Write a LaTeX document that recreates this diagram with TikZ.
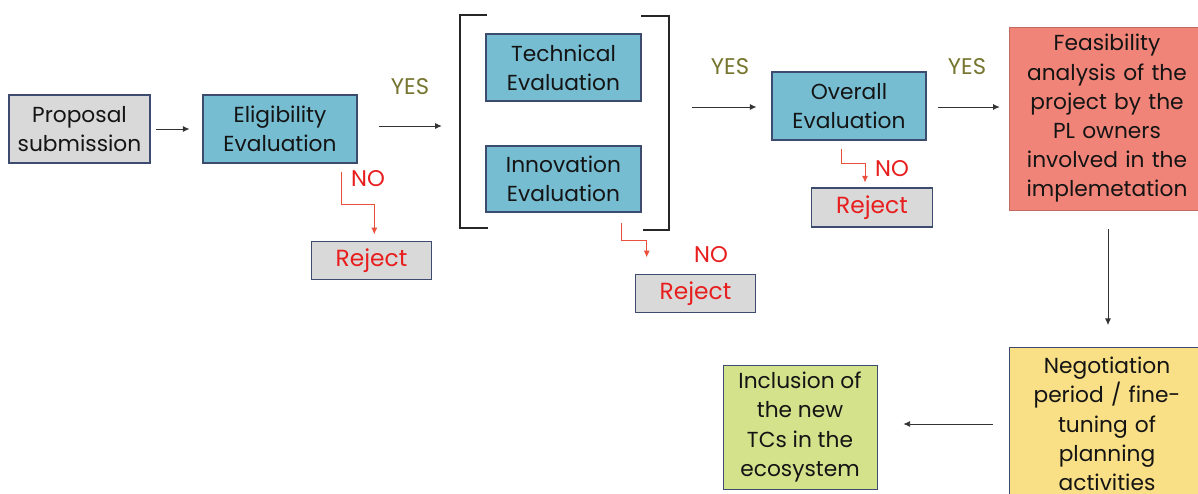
\documentclass[tikz,border=0pt]{standalone}
\usepackage{fontspec}
\setmainfont{Poppins}
\usetikzlibrary{arrows.meta}
\definecolor{bordc}{RGB}{60,75,110}
\definecolor{grayf}{RGB}{217,217,217}
\definecolor{bluef}{RGB}{118,189,210}
\definecolor{salmonf}{RGB}{241,132,120}
\definecolor{yellowf}{RGB}{249,223,134}
\definecolor{greenf}{RGB}{212,226,140}
\definecolor{yesc}{RGB}{118,118,48}
\definecolor{noc}{RGB}{232,30,30}
\definecolor{noarr}{RGB}{235,80,60}
\tikzset{
  box/.style={draw=bordc, line width=0.8pt, align=center, inner sep=0pt,
    font=\fontsize{16.3}{21.9}\selectfont, text=black!92},
  rejbox/.style={box, fill=grayf, minimum width=90.5pt, minimum height=28pt, text=noc,
    font=\fontsize{17.5}{20}\selectfont},
  flow/.style={draw=black!80, line width=0.6pt, -{Latex[length=5pt,width=4.5pt]}},
  noflow/.style={draw=noarr, line width=0.6pt, -{Latex[length=5pt,width=4.5pt]}},
  yeslab/.style={text=yesc, font=\fontsize{17}{20}\selectfont},
  nolab/.style={text=noc, font=\fontsize{17}{20}\selectfont},
  brk/.style={draw=black!85, line width=0.8pt}
}
\begin{document}
\begin{tikzpicture}[x=0.75pt,y=-0.75pt]
\useasboundingbox (0,0) rectangle (1198,493);
\fill[white] (0,0) rectangle (1198,493);
% main boxes
\node[box, fill=grayf, minimum width=105.75pt, minimum height=51pt] (prop) at (79.5,129) {Proposal\\submission};
\node[box, fill=bluef, minimum width=115.5pt, minimum height=51pt] (elig) at (280,129) {Eligibility\\Evaluation};
\node[box, fill=bluef, minimum width=116.25pt, minimum height=50.25pt] (tech) at (563.5,67.5) {Technical\\Evaluation};
\node[box, fill=bluef, minimum width=116.25pt, minimum height=49.5pt] (innov) at (563.5,179) {Innovation\\Evaluation};
\node[box, fill=bluef, minimum width=115.5pt, minimum height=51pt] (over) at (849,106) {Overall\\Evaluation};
\node[box, draw=salmonf!80!black, line width=0.5pt, fill=salmonf, minimum width=147pt, minimum height=137.25pt, text width=147pt] (feas) at (1107,118.5) {Feasibility\\analysis of the\\project by the\\PL owners\\involved in the\\implemetation};
\node[box, fill=yellowf, line width=0.6pt, minimum width=147pt, minimum height=114.75pt, text width=147pt] (neg) at (1107,424) {Negotiation\\period / fine-\\tuning of\\planning\\activities};
\node[box, fill=greenf, line width=0.6pt, minimum width=115.5pt, minimum height=93pt] (incl) at (800,427) {Inclusion of\\the new\\TCs in the\\ecosystem};
% reject boxes
\node[rejbox] (rej1) at (371.5,260.5) {\raisebox{-1.5pt}{Reject}};
\node[rejbox] (rej2) at (695.5,293.5) {\raisebox{-1.5pt}{Reject}};
\node[rejbox, minimum height=29.25pt] (rej3) at (872,207.5) {\raisebox{-1.5pt}{Reject}};
% group of parallel evaluations
\node[minimum width=156.75pt, minimum height=161.25pt, inner sep=0pt] (grp) at (564.5,122.5) {};
\draw[brk] (487,15) -- (460,15) -- (460,228) -- (488,228);
\draw[brk] (641,16) -- (669,16) -- (669,230) -- (643,230);
% labels
\node[yeslab] (yes1) at (410,87) {YES};
\node[yeslab] (yes2) at (730,67) {YES};
\node[yeslab] (yes3) at (967,67) {YES};
\node[nolab] (no1) at (368,179) {NO};
\node[nolab] (no2) at (711,255) {NO};
\node[nolab] (no3) at (892,169) {NO};
% flow arrows
\draw[flow, shorten <=3.75pt, shorten >=9.75pt] (prop.east) -- (elig.west);
\draw[flow, shorten <=15.75pt, shorten >=13.5pt] ([yshift=2.25pt]elig.east) -- ([yshift=2.25pt]elig.east -| grp.west);
\draw[flow, shorten <=17.25pt, shorten >=11.25pt] ([yshift=-0.75pt]over.west -| grp.east) -- ([yshift=-0.75pt]over.west);
\draw[flow, shorten <=8.25pt, shorten >=6.75pt] ([yshift=-0.75pt]over.east) -- ([yshift=-0.75pt]over.east -| feas.west);
\draw[flow, shorten <=14.25pt, shorten >=16.5pt] ([xshift=0.75pt]feas.south) -- ([xshift=0.75pt]feas.south |- neg.north);
\draw[flow, shorten <=12pt, shorten >=19.5pt] (neg.west) -- (neg.west -| incl.east);
% reject arrows
\draw[noflow] ([xshift=46.3pt,yshift=-6.5pt]elig.south) -- ++(0,-24.2pt) -| ([xshift=2.1pt,yshift=5.25pt]rej1.north);
\draw[noflow] ([xshift=43.65pt,yshift=-8pt]innov.south) -- ++(0,-13pt) -| ([xshift=-36.6pt,yshift=12.75pt]rej2.north);
\draw[noflow] ([xshift=-5.5pt,yshift=-6pt]over.south) -- ++(0,-11pt) -| ([xshift=-5.25pt,yshift=3.75pt]rej3.north);
\end{tikzpicture}
\end{document}
